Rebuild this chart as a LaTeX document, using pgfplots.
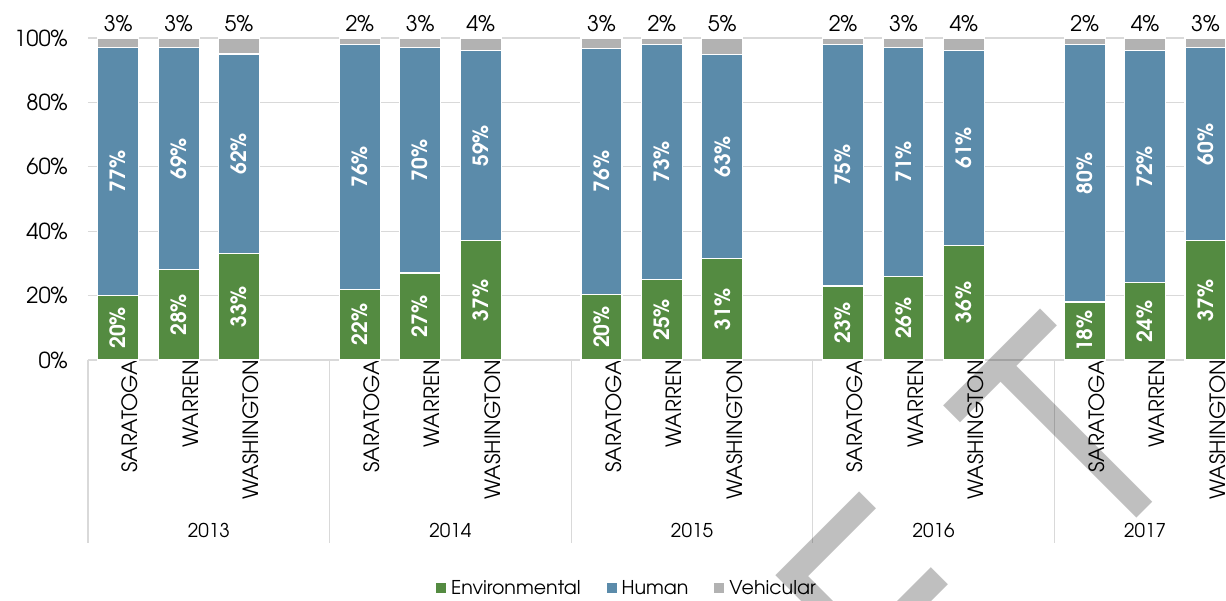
\documentclass[border=0pt]{standalone}
\usepackage{fontspec}
\setmainfont{TeX Gyre Adventor}
\newfontfamily\wmfont{Liberation Sans}
\usepackage{pgfplots}
\usepackage{pgfplotstable}
\pgfplotsset{compat=1.18}
\definecolor{envc}{HTML}{548B41}
\definecolor{humc}{HTML}{5B8BAA}
\definecolor{vehc}{HTML}{B2B2B2}
\definecolor{gridc}{HTML}{D9D9D9}
\pgfplotstableread{
x    env   hum   veh
0.5  20    77    3
1.5  28    69    3
2.5  33    62    5
4.5  22    76    2
5.5  27    70    3
6.5  37    59    4
8.5  20.4  76.3  3.3
9.5  25    73    2
10.5 31.4  63.4  5.2
12.5 23    75    2
13.5 26    71    3
14.5 35.6  60.6  3.8
16.5 18    80    2
17.5 24    72    4
18.5 37    60    3
}\datatable
\pgfplotsset{
  common/.style={
    at={(88pt,241pt)}, anchor=south west,
    scale only axis,
    width=1138pt, height=322pt,
    xmin=0, xmax=18.84,
    ymin=0, ymax=100,
    clip=false,
  },
}
\begin{document}
\begin{tikzpicture}[x=1pt,y=1pt]
\useasboundingbox (0,0) rectangle (1226,601);
\begin{axis}[
  common,
  ybar stacked,
  bar width=41pt,
  axis line style={draw=none},
  major tick length=0pt,
  ymajorgrids,
  grid style={gridc, line width=1.2pt},
  ytick={0,20,40,60,80,100},
  yticklabels={0\%,20\%,40\%,60\%,80\%,100\%},
  yticklabel style={font=\fontsize{22}{24}\selectfont, inner sep=0pt, xshift=-20pt, anchor=east},
  xtick={0.5,1.5,2.5,4.5,5.5,6.5,8.5,9.5,10.5,12.5,13.5,14.5,16.5,17.5,18.5},
  xticklabels={SARATOGA,WARREN,WASHINGTON,SARATOGA,WARREN,WASHINGTON,SARATOGA,WARREN,WASHINGTON,SARATOGA,WARREN,WASHINGTON,SARATOGA,WARREN,WASHINGTON},
  xticklabel style={font=\fontsize{21}{24}\selectfont, rotate=90, anchor=east, inner sep=0pt, yshift=-12pt},
  legend columns=-1,
  legend style={at={(0.4736,-0.708)}, anchor=center, draw=none, fill=none,
    font=\fontsize{19}{22}\selectfont,
    /tikz/every odd column/.append style={column sep=3pt},
    /tikz/every even column/.append style={column sep=24pt}},
  legend image code/.code={\path[#1,draw=none] (0pt,-5pt) rectangle (10pt,5pt);},
]
\addplot+[fill=envc, draw=white, line width=1.2pt] table[x=x, y=env] {\datatable};
\addlegendentry{Environmental}
\addplot+[fill=humc, draw=white, line width=1.2pt] table[x=x, y=hum] {\datatable};
\addlegendentry{Human}
\addplot+[fill=vehc, draw=white, line width=1.2pt] table[x=x, y=veh] {\datatable};
\addlegendentry{Vehicular}
\draw[gridc, line width=1.2pt] (axis cs:0,0) -- ++(0,-183pt);
\draw[gridc, line width=1.2pt] (axis cs:4,0) -- ++(0,-183pt);
\draw[gridc, line width=1.2pt] (axis cs:8,0) -- ++(0,-183pt);
\draw[gridc, line width=1.2pt] (axis cs:12,0) -- ++(0,-183pt);
\draw[gridc, line width=1.2pt] (axis cs:16,0) -- ++(0,-183pt);
\node[font=\fontsize{19}{22}\selectfont] at (axis cs:2,0) [yshift=-170pt] {2013};
\node[font=\fontsize{19}{22}\selectfont] at (axis cs:6,0) [yshift=-170pt] {2014};
\node[font=\fontsize{19}{22}\selectfont] at (axis cs:10,0) [yshift=-170pt] {2015};
\node[font=\fontsize{19}{22}\selectfont] at (axis cs:14,0) [yshift=-170pt] {2016};
\node[font=\fontsize{19}{22}\selectfont] at (axis cs:17.5,0) [yshift=-170pt] {2017};
\end{axis}
\begin{axis}[
  common,
  hide axis,
  /pgf/number format/assume math mode=true,
  nodes near coords={\pgfmathprintnumber[fixed,precision=0]{\pgfplotspointmeta}\%},
  point meta=explicit,
]
\addplot[draw=none, mark=none,
  every node near coord/.style={font=\fontsize{21}{24}\selectfont\bfseries, text=white, anchor=center, rotate=90, inner sep=0pt}]
  table[x=x, y expr=\thisrow{env}/2, meta=env] {\datatable};
\addplot[draw=none, mark=none,
  every node near coord/.style={font=\fontsize{21}{24}\selectfont\bfseries, text=white, anchor=center, rotate=90, inner sep=0pt}]
  table[x=x, y expr=\thisrow{env}+\thisrow{hum}/2, meta=hum] {\datatable};
\addplot[draw=none, mark=none,
  every node near coord/.style={font=\fontsize{21.5}{24}\selectfont, text=black, anchor=center, inner sep=0pt, yshift=14pt}]
  table[x=x, y expr=100, meta=veh] {\datatable};
\end{axis}
\node[font=\wmfont\fontsize{314}{314}\selectfont, text=black, text opacity=0.25,
  inner sep=0pt, anchor=base, rotate=45, xscale=0.772] at (1145,91) {T};
\node[font=\wmfont\fontsize{314}{314}\selectfont, text=black, text opacity=0.25,
  inner sep=0pt, anchor=base, rotate=45, xscale=0.772] at (967,-89) {F};
\end{tikzpicture}
\end{document}
